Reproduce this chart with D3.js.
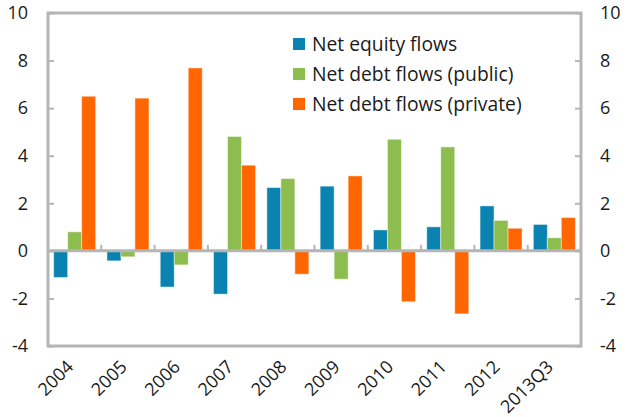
<!DOCTYPE html>
<html><head><meta charset="utf-8">
<script src="https://cdn.jsdelivr.net/npm/d3@7"></script>
<style>body{margin:0;background:#fff}svg{display:block}text{font-family:"Open Sans",sans-serif;fill:#1a1a1a}</style>
</head><body>
<script>
const categories = ["2004","2005","2006","2007","2008","2009","2010","2011","2012","2013Q3"];
const seriesNames = ["Net equity flows","Net debt flows (public)","Net debt flows (private)"];
const equity  = [-1.12,-0.42,-1.52,-1.82, 2.66, 2.72, 0.88, 1.01, 1.89, 1.11];
const debtPub = [ 0.80,-0.25,-0.59, 4.81, 3.04,-1.19, 4.69, 4.37, 1.28, 0.55];
const debtPriv= [ 6.50, 6.42, 7.69, 3.60,-0.98, 3.15,-2.14,-2.65, 0.95, 1.40];
const yTicks = [-4,-2,0,2,4,6,8,10];
const colors = ["#0a83b1","#8dbd4f","#ff6600"];

const W=626,H=417;
const L=48,R=581,T=13,B=346;
const svg=d3.select("body").append("svg").attr("width",W).attr("height",H);
const x=d3.scaleBand().domain(categories).range([L,R]).paddingInner(0.212).paddingOuter(0.106);
const xs=d3.scaleBand().domain(seriesNames).range([0,x.bandwidth()]);
const y=d3.scaleLinear().domain([-4,10]).range([B,T]);
const series=[equity,debtPub,debtPriv];
const axisColor="#b5b5b5";

// bars
series.forEach((vals,si)=>{
  svg.append("g").selectAll("rect").data(vals).join("rect")
    .attr("x",(d,i)=>x(categories[i])+xs(seriesNames[si]))
    .attr("width",xs.bandwidth())
    .attr("y",d=>y(Math.max(0,d)))
    .attr("height",d=>Math.abs(y(d)-y(0)))
    .attr("fill",colors[si])
    .attr("stroke","rgba(255,255,255,0.45)").attr("stroke-width",1);
});

// frame
svg.append("rect").attr("x",L).attr("y",T).attr("width",R-L).attr("height",B-T)
  .attr("fill","none").attr("stroke",axisColor).attr("stroke-width",3);

// left/right axes (ticks inward)
const fmt=d=>String(d);
const yl=d3.axisLeft(y).tickValues(yTicks).tickFormat(fmt).tickSize(-6).tickPadding(20);
const gl=svg.append("g").attr("transform",`translate(${L},0)`).call(yl);
const yr=d3.axisRight(y).tickValues(yTicks).tickFormat(fmt).tickSize(-6).tickPadding(19);
const gr=svg.append("g").attr("transform",`translate(${R},0)`).call(yr);
[gl,gr].forEach(g=>{
  g.select(".domain").remove();
  g.selectAll(".tick line").attr("stroke",axisColor).attr("stroke-width",2);
  g.selectAll(".tick text").attr("font-size",18).attr("font-family","Open Sans").attr("fill","#1a1a1a");
});

// zero line with category ticks (upward)
const catBounds=categories.slice(1).map(c=>x(c)-x.step()*x.paddingInner()/2);
svg.append("g").selectAll("line").data(catBounds).join("line")
  .attr("x1",d=>d).attr("x2",d=>d).attr("y1",y(0)-6).attr("y2",y(0))
  .attr("stroke",axisColor).attr("stroke-width",2);
svg.append("line").attr("x1",L).attr("x2",R).attr("y1",y(0)).attr("y2",y(0))
  .attr("stroke",axisColor).attr("stroke-width",3);

// x labels
svg.append("g").selectAll("text").data(categories).join("text")
  .attr("transform",d=>`translate(${x(d)+x.bandwidth()/2},${368}) rotate(-45)`)
  .attr("text-anchor","end").attr("font-size",18).text(d=>d);

// legend
const lg=svg.append("g");
seriesNames.forEach((n,i)=>{
  lg.append("rect").attr("x",293).attr("y",38+i*30).attr("width",12).attr("height",12).attr("fill",colors[i]);
  lg.append("text").attr("x",312).attr("y",44+i*30).attr("dy","0.35em").attr("font-size",19.3).text(n);
});
</script>
</body></html>
